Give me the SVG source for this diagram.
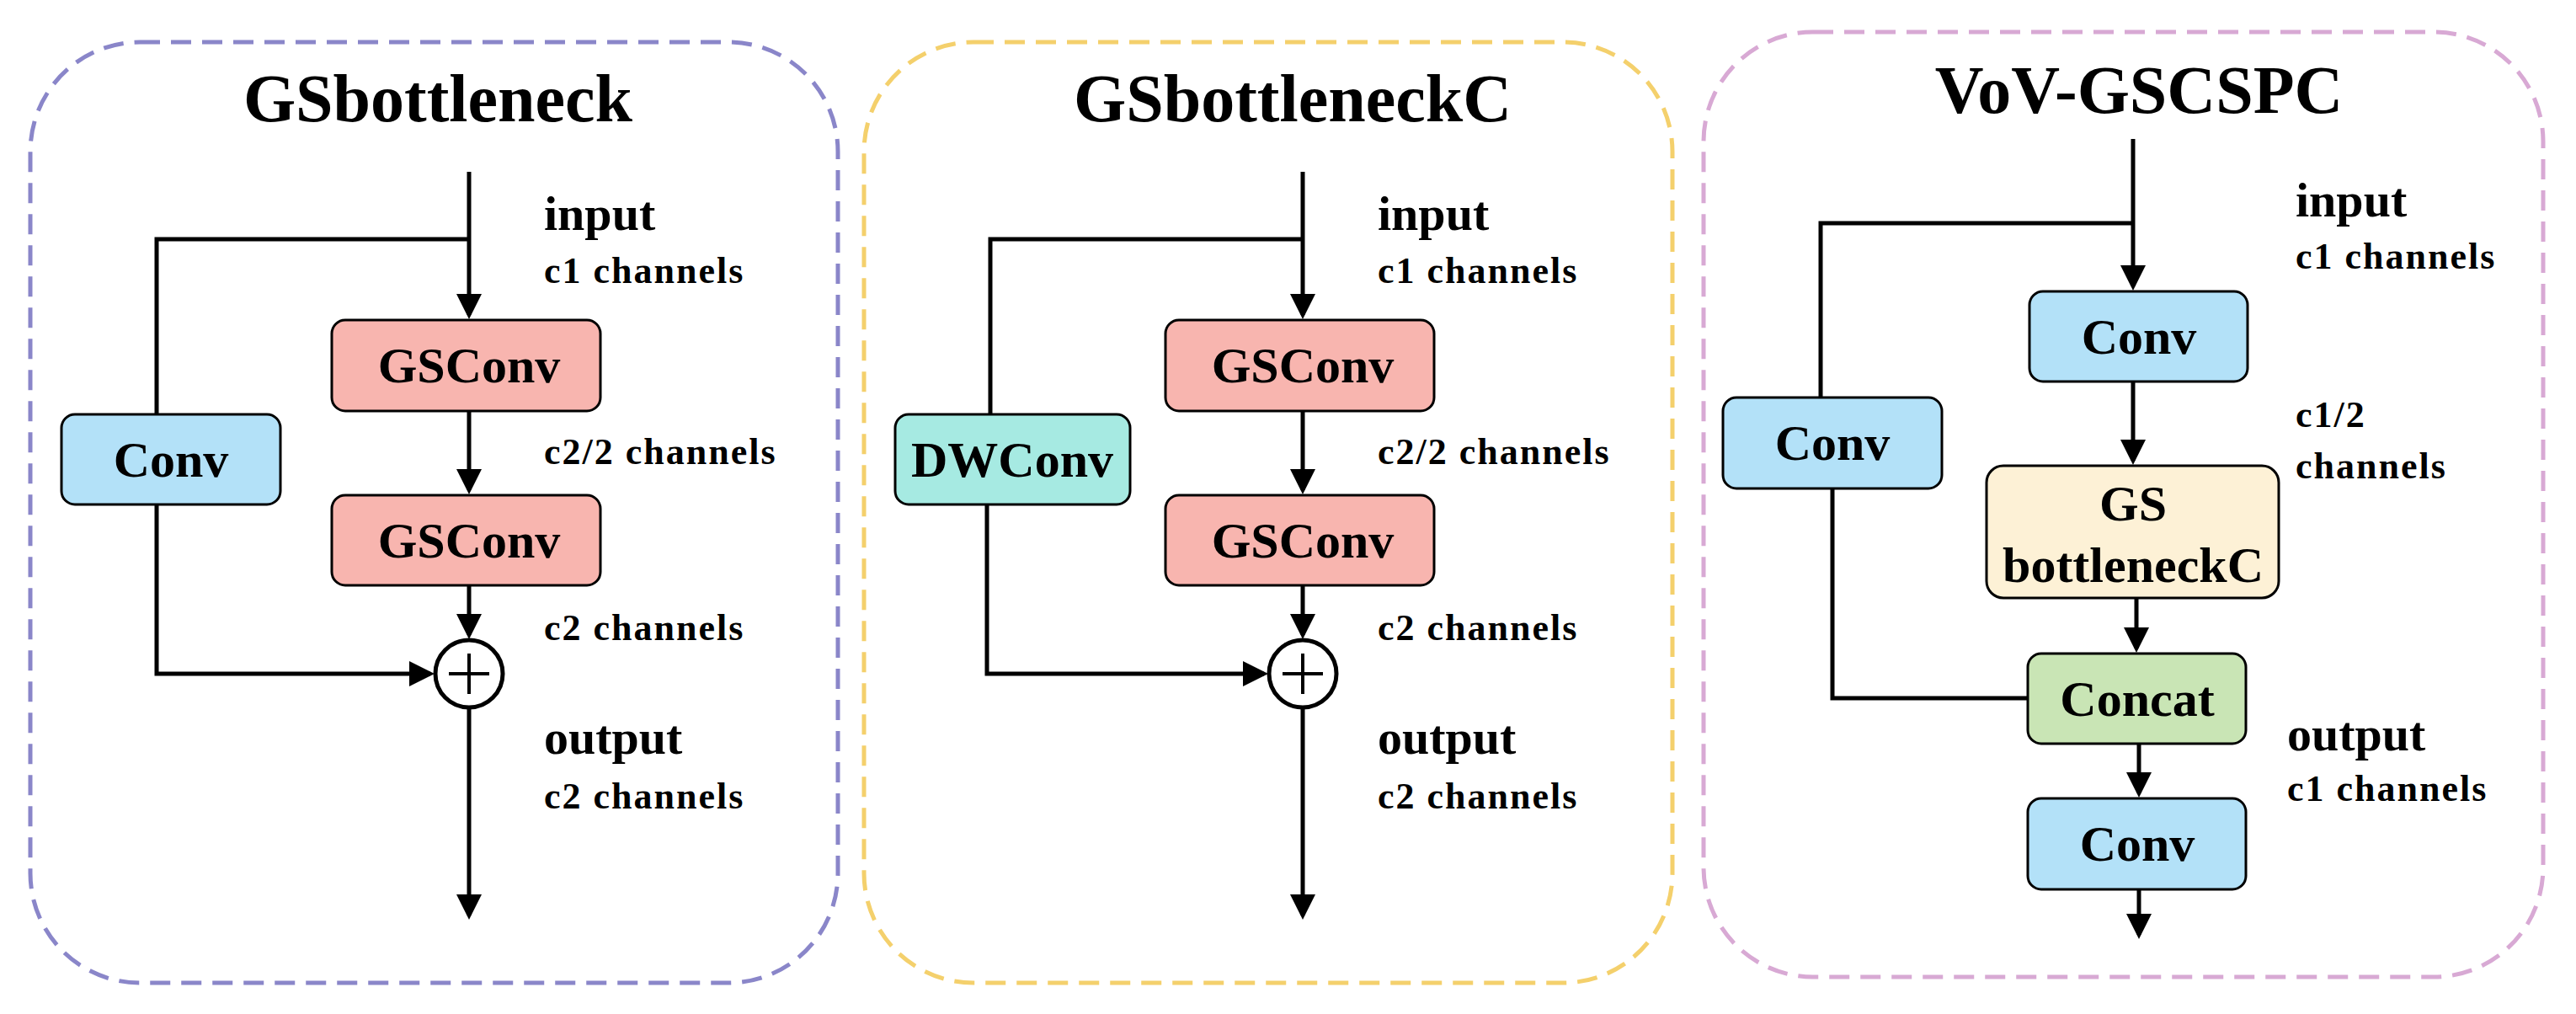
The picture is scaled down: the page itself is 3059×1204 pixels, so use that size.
<svg xmlns="http://www.w3.org/2000/svg" width="3059" height="1204" viewBox="0 0 3059 1204">
<style>
.panel{fill:none;stroke-width:5;stroke-dasharray:24 13}
.box{stroke:#000;stroke-width:3}
.t{font-family:"Liberation Serif",serif;font-weight:bold;fill:#000}
.title{font-size:80px;text-anchor:middle}
.lbl{font-size:60px;text-anchor:middle}
.io{font-size:58px}
.ch{font-size:44px;letter-spacing:2px}
.ln{fill:none;stroke:#000;stroke-width:5}
</style>
<defs><marker id="a" markerWidth="6" markerHeight="6" refX="5" refY="3" orient="auto" markerUnits="strokeWidth"><path d="M0,0 L6,3 L0,6 z" fill="#000"/></marker></defs>
<rect width="3059" height="1204" fill="#fff"/>
<g id="panel1"><rect class="panel" x="36" y="50" width="959" height="1117" rx="130" stroke="#8A86C9"/><text class="t title" x="520" y="144">GSbottleneck</text></g>
<g id="panel2"><rect class="panel" x="1026" y="50" width="960" height="1117" rx="130" stroke="#F4D06C"/><text class="t title" x="1535" y="144">GSbottleneckC</text></g>
<g id="panel3"><rect class="panel" x="2023" y="38" width="997" height="1122" rx="130" stroke="#D8A9D4"/><text class="t title" x="2540" y="134">VoV-GSCSPC</text></g>
<g id="connectors">
<path class="ln" d="M557,204 V374" marker-end="url(#a)"/>
<path class="ln" d="M557,284 H186 V492"/>
<path class="ln" d="M557,488 V582" marker-end="url(#a)"/>
<path class="ln" d="M557,695 V754" marker-end="url(#a)"/>
<path class="ln" d="M186,599 V800 H511" marker-end="url(#a)"/>
<path class="ln" d="M557,840 V1087" marker-end="url(#a)"/>
<path class="ln" d="M1547,204 V374" marker-end="url(#a)"/>
<path class="ln" d="M1547,284 H1176 V492"/>
<path class="ln" d="M1547,488 V582" marker-end="url(#a)"/>
<path class="ln" d="M1547,695 V754" marker-end="url(#a)"/>
<path class="ln" d="M1172,599 V800 H1501" marker-end="url(#a)"/>
<path class="ln" d="M1547,840 V1087" marker-end="url(#a)"/>
<path class="ln" d="M2533,165 V340" marker-end="url(#a)"/>
<path class="ln" d="M2533,265 H2162 V472"/>
<path class="ln" d="M2533,453 V547" marker-end="url(#a)"/>
<path class="ln" d="M2537,710 V770" marker-end="url(#a)"/>
<path class="ln" d="M2176,580 V829 H2408"/>
<path class="ln" d="M2540,883 V942" marker-end="url(#a)"/>
<path class="ln" d="M2540,1056 V1110" marker-end="url(#a)"/>
</g>
<g id="p1-gsconv1"><rect class="box" x="394" y="380" width="319" height="108" rx="16" fill="#F8B5AF"/><text class="t lbl" x="557" y="454">GSConv</text></g>
<g id="p1-gsconv2"><rect class="box" x="394" y="588" width="319" height="107" rx="16" fill="#F8B5AF"/><text class="t lbl" x="557" y="662">GSConv</text></g>
<g id="p1-conv"><rect class="box" x="73" y="492" width="260" height="107" rx="16" fill="#B3E1F8"/><text class="t lbl" x="203" y="566">Conv</text></g>
<g id="p1-add"><circle cx="557" cy="800" r="40" fill="#fff" stroke="#000" stroke-width="5"/><path d="M533,800 H581 M557,776 V824" stroke="#000" stroke-width="4"/></g>
<g id="p1-labels">
<text class="t io" x="646" y="273">input</text><text class="t ch" x="646" y="336">c1 channels</text>
<text class="t ch" x="646" y="551">c2/2 channels</text><text class="t ch" x="646" y="760">c2 channels</text>
<text class="t io" x="646" y="895">output</text><text class="t ch" x="646" y="960">c2 channels</text></g>
<g id="p2-gsconv1"><rect class="box" x="1384" y="380" width="319" height="108" rx="16" fill="#F8B5AF"/><text class="t lbl" x="1547" y="454">GSConv</text></g>
<g id="p2-gsconv2"><rect class="box" x="1384" y="588" width="319" height="107" rx="16" fill="#F8B5AF"/><text class="t lbl" x="1547" y="662">GSConv</text></g>
<g id="p2-dwconv"><rect class="box" x="1063" y="492" width="279" height="107" rx="16" fill="#A6EAE2"/><text class="t lbl" x="1202" y="566">DWConv</text></g>
<g id="p2-add"><circle cx="1547" cy="800" r="40" fill="#fff" stroke="#000" stroke-width="5"/><path d="M1523,800 H1571 M1547,776 V824" stroke="#000" stroke-width="4"/></g>
<g id="p2-labels">
<text class="t io" x="1636" y="273">input</text><text class="t ch" x="1636" y="336">c1 channels</text>
<text class="t ch" x="1636" y="551">c2/2 channels</text><text class="t ch" x="1636" y="760">c2 channels</text>
<text class="t io" x="1636" y="895">output</text><text class="t ch" x="1636" y="960">c2 channels</text></g>
<g id="p3-conv1"><rect class="box" x="2410" y="346" width="259" height="107" rx="16" fill="#B3E1F8"/><text class="t lbl" x="2540" y="420">Conv</text></g>
<g id="p3-conv-left"><rect class="box" x="2046" y="472" width="260" height="108" rx="16" fill="#B3E1F8"/><text class="t lbl" x="2176" y="546">Conv</text></g>
<g id="p3-gsb"><rect class="box" x="2359" y="553" width="347" height="157" rx="20" fill="#FDF1D6"/><text class="t lbl" x="2533" y="618">GS</text><text class="t lbl" x="2533" y="691">bottleneckC</text></g>
<g id="p3-concat"><rect class="box" x="2408" y="776" width="259" height="107" rx="16" fill="#C9E5B5"/><text class="t lbl" x="2538" y="850">Concat</text></g>
<g id="p3-conv2"><rect class="box" x="2408" y="948" width="259" height="108" rx="16" fill="#B3E1F8"/><text class="t lbl" x="2538" y="1022">Conv</text></g>
<g id="p3-labels">
<text class="t io" x="2726" y="257">input</text><text class="t ch" x="2726" y="319">c1 channels</text>
<text class="t ch" x="2726" y="507">c1/2</text><text class="t ch" x="2726" y="568">channels</text>
<text class="t io" x="2716" y="891">output</text><text class="t ch" x="2716" y="951">c1 channels</text></g>
</svg>
